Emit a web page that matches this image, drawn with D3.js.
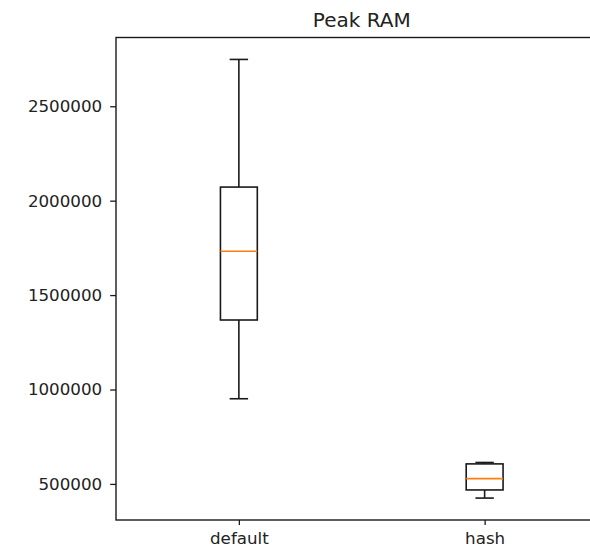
<!DOCTYPE html>
<html>
<head>
<meta charset="utf-8">
<script src="https://cdn.jsdelivr.net/npm/d3@7/dist/d3.min.js"></script>
<style>
  html, body { margin: 0; padding: 0; background: #fff; }
  svg { display: block; }
  text { font-family: "DejaVu Sans", sans-serif; fill: #222; }
</style>
</head>
<body>
<svg id="chart" width="590" height="549"></svg>
<script>
// Peak RAM distribution per strategy
const categories = ["default", "hash"];
const whiskerLow = [951000, 425000];
const q1 = [1368000, 468000];
const median = [1732000, 528000];
const q3 = [2072000, 606000];
const whiskerHigh = [2748000, 613500];
const yTicks = [500000, 1000000, 1500000, 2000000, 2500000];

const svg = d3.select("#chart");
const plotLeft = 116, plotRight = 607.5, plotTop = 37.5, plotBottom = 520;

// y limits: data range with 5% padding on both sides
const lo = d3.min(whiskerLow), hi = d3.max(whiskerHigh);
const pad = 0.05 * (hi - lo);
const y = d3.scaleLinear().domain([lo - pad, hi + pad]).range([plotBottom, plotTop]);
const x = d3.scaleLinear().domain([0.5, categories.length + 0.5]).range([plotLeft, plotRight]);

const boxW = 0.15, capW = 0.075;
const stroke = "#1a1a1a", lw = 1.6;

const boxes = svg.append("g").selectAll("g")
  .data(categories.map((c, i) => ({ c, pos: i + 1, lo: whiskerLow[i], q1: q1[i], med: median[i], q3: q3[i], hi: whiskerHigh[i] })))
  .join("g");

// whiskers
boxes.append("line")
  .attr("x1", d => x(d.pos)).attr("x2", d => x(d.pos))
  .attr("y1", d => y(d.q3)).attr("y2", d => y(d.hi))
  .attr("stroke", stroke).attr("stroke-width", lw);
boxes.append("line")
  .attr("x1", d => x(d.pos)).attr("x2", d => x(d.pos))
  .attr("y1", d => y(d.q1)).attr("y2", d => y(d.lo))
  .attr("stroke", stroke).attr("stroke-width", lw);
// caps
boxes.append("line")
  .attr("x1", d => x(d.pos - capW / 2)).attr("x2", d => x(d.pos + capW / 2))
  .attr("y1", d => y(d.hi)).attr("y2", d => y(d.hi))
  .attr("stroke", stroke).attr("stroke-width", lw);
boxes.append("line")
  .attr("x1", d => x(d.pos - capW / 2)).attr("x2", d => x(d.pos + capW / 2))
  .attr("y1", d => y(d.lo)).attr("y2", d => y(d.lo))
  .attr("stroke", stroke).attr("stroke-width", lw);
// box
boxes.append("rect")
  .attr("x", d => x(d.pos - boxW / 2))
  .attr("width", d => x(d.pos + boxW / 2) - x(d.pos - boxW / 2))
  .attr("y", d => y(d.q3))
  .attr("height", d => y(d.q1) - y(d.q3))
  .attr("fill", "none").attr("stroke", stroke).attr("stroke-width", lw);
// median
boxes.append("line")
  .attr("x1", d => x(d.pos - boxW / 2)).attr("x2", d => x(d.pos + boxW / 2))
  .attr("y1", d => y(d.med)).attr("y2", d => y(d.med))
  .attr("stroke", "#ff7f0e").attr("stroke-width", lw);

// axes
const yAxis = d3.axisLeft(y).tickValues(yTicks).tickFormat(d3.format("d")).tickSize(5.8).tickPadding(8);
const gy = svg.append("g").attr("transform", `translate(${plotLeft},0)`).call(yAxis);
const xAxis = d3.axisBottom(x).tickValues(categories.map((c, i) => i + 1)).tickFormat((d, i) => categories[i]).tickSize(5).tickPadding(7);
const gx = svg.append("g").attr("transform", `translate(0,${plotBottom})`).call(xAxis);
[gy, gx].forEach(g => {
  g.select(".domain").remove();
  g.selectAll(".tick line").attr("stroke", stroke).attr("stroke-width", 1.3);
  g.selectAll(".tick text").style("font-size", "16.7px").style("font-family", "DejaVu Sans, sans-serif").attr("fill", "#222");
});

// frame
svg.append("rect")
  .attr("x", plotLeft).attr("y", plotTop)
  .attr("width", plotRight - plotLeft).attr("height", plotBottom - plotTop)
  .attr("fill", "none").attr("stroke", stroke).attr("stroke-width", 1.4);

// title
svg.append("text")
  .attr("x", (plotLeft + plotRight) / 2).attr("y", 27)
  .attr("text-anchor", "middle")
  .style("font-size", "20px")
  .text("Peak RAM");
</script>
</body>
</html>
